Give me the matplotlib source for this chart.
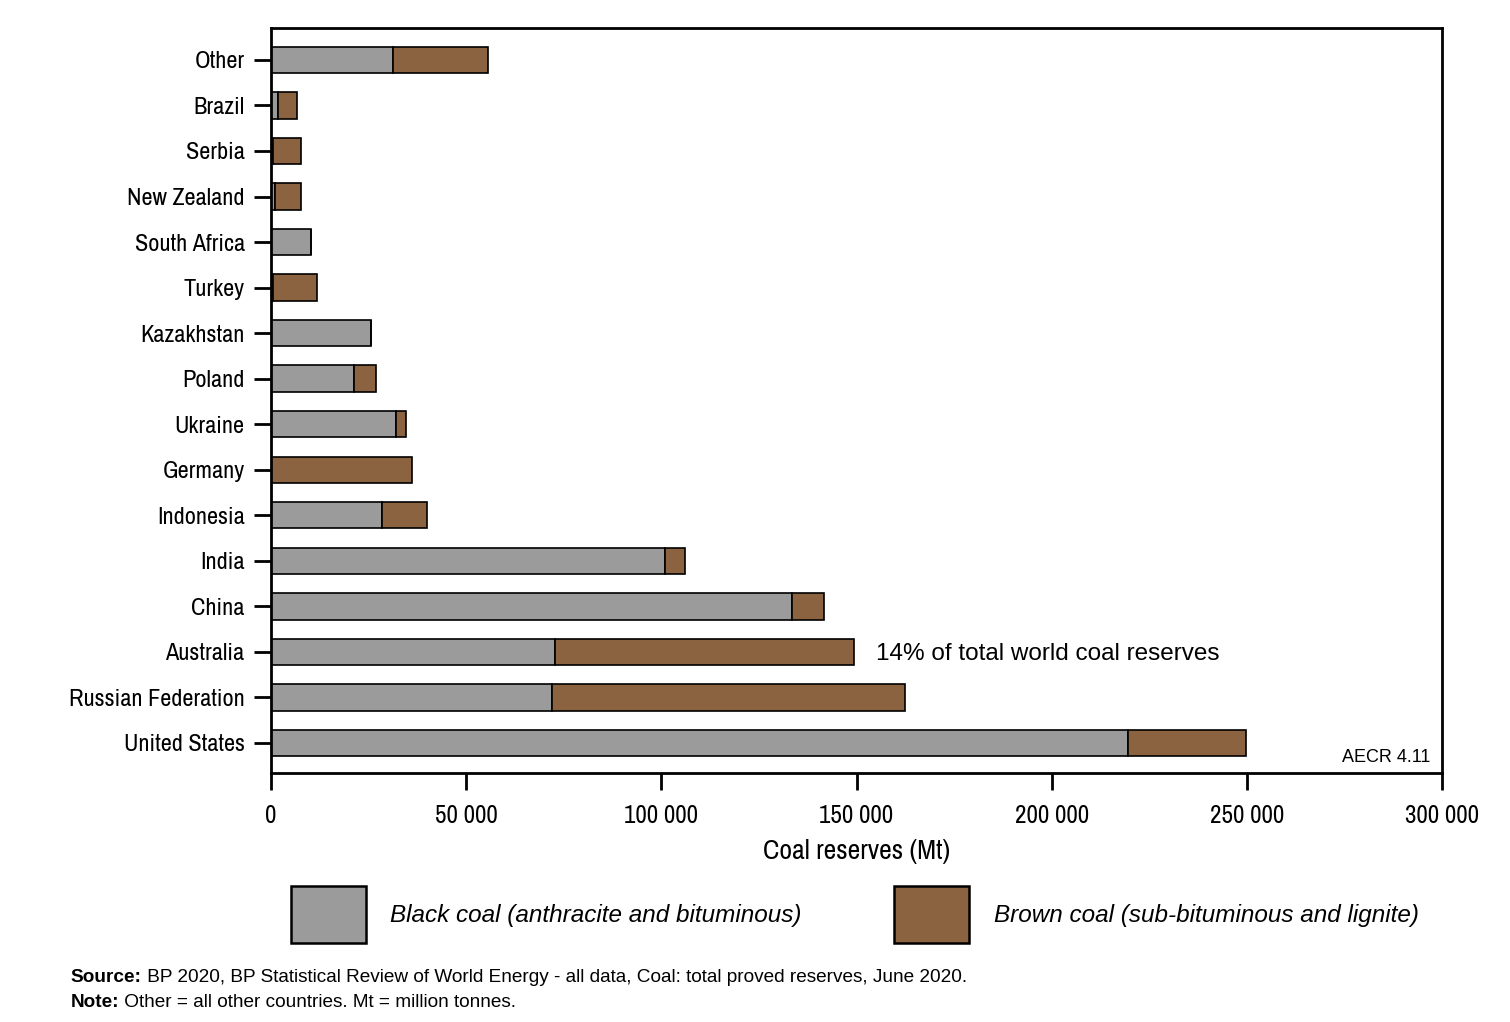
import matplotlib
matplotlib.use("Agg")
import matplotlib.pyplot as plt
from matplotlib import font_manager
from matplotlib.patches import Patch
from matplotlib.ticker import FuncFormatter

# countries bottom to top, reserves in Mt
countries = ["United States", "Russian Federation", "Australia", "China", "India",
             "Indonesia", "Germany", "Ukraine", "Poland", "Kazakhstan", "Turkey",
             "South Africa", "New Zealand", "Serbia", "Brazil", "Other"]
black_coal = [219600, 72000, 72800, 133500, 101000, 28400, 3, 32100, 21300,
              25700, 550, 10200, 1100, 400, 1700, 31200]
brown_coal = [30200, 90400, 76600, 8200, 5100, 11500, 36000, 2400, 5700,
              0, 11150, 0, 6700, 7400, 5000, 24500]
legend_labels = ["Black coal (anthracite and bituminous)",
                 "Brown coal (sub-bituminous and lignite)"]

gray = "#9b9b9b"
brown = "#8c6341"

names = set(f.name for f in font_manager.fontManager.ttflist)
narrow = "DejaVu Sans"
for cand in ["Nimbus Sans Narrow", "Liberation Sans Narrow", "Arial Narrow",
             "Archivo Narrow", "PT Sans Narrow", "Roboto Condensed",
             "Pragati Narrow", "IBM Plex Sans Condensed", "Fira Sans Condensed"]:
    if cand in names:
        narrow = cand
        break
plain = "Liberation Sans"

fig = plt.figure(figsize=(15.1, 10.22), dpi=100)
ax = fig.add_axes([0.1795, 0.2436, 0.955 - 0.1795, 0.9726 - 0.2436])

y = range(len(countries))
ax.barh(y, black_coal, height=0.58, color=gray, edgecolor="black", linewidth=1.2)
ax.barh(y, brown_coal, left=black_coal, height=0.58, color=brown, edgecolor="black", linewidth=1.2)

ax.set_xlim(0, 300000)
ax.set_ylim(-0.66, len(countries) - 0.3)
ax.set_yticks(list(y))
ax.set_yticklabels(countries, fontfamily=narrow, fontsize=17.5)
ax.set_xticks([0, 50000, 100000, 150000, 200000, 250000, 300000])
ax.xaxis.set_major_formatter(FuncFormatter(lambda v, p: f"{int(v):,}".replace(",", " ")))
for lab in ax.get_xticklabels():
    lab.set_fontfamily(narrow)
    lab.set_fontsize(18)
ax.tick_params(axis="y", length=12, width=2, pad=7)
ax.tick_params(axis="x", length=12, width=2, pad=10)
for s in ax.spines.values():
    s.set_linewidth(2)
ax.set_xlabel("Coal reserves (Mt)", fontfamily=narrow, fontsize=20, labelpad=9)

ax.text(155000, 1.96, "14% of total world coal reserves", fontfamily=plain,
        fontsize=17.5, va="center", ha="left")
ax.text(0.99, 0.01, "AECR 4.11", transform=ax.transAxes, fontfamily=plain,
        fontsize=13, ha="right", va="bottom")

handles = [Patch(facecolor=gray, edgecolor="black", linewidth=1.8),
           Patch(facecolor=brown, edgecolor="black", linewidth=1.8)]
fig.legend(handles, legend_labels,
           loc="center", bbox_to_anchor=(0.566, 0.105), ncol=2, frameon=False,
           handlelength=3.1, handleheight=3.2, handletextpad=1.0, columnspacing=3.8,
           prop={"family": plain, "style": "italic", "size": 17.5})

renderer = fig.canvas.get_renderer()
notes = [("Source:", " BP 2020, BP Statistical Review of World Energy - all data, Coal: total proved reserves, June 2020.", 0.039),
         ("Note:", " Other = all other countries. Mt = million tonnes.", 0.015)]
for head, rest, ypos in notes:
    t = fig.text(0.047, ypos, head, fontsize=13.7, fontfamily=plain, fontweight="bold")
    bb = t.get_window_extent(renderer)
    fig.text(bb.x1 / fig.bbox.width, ypos, rest, fontsize=13.7, fontfamily=plain)

fig.savefig("out.png", dpi=100, facecolor="white")
